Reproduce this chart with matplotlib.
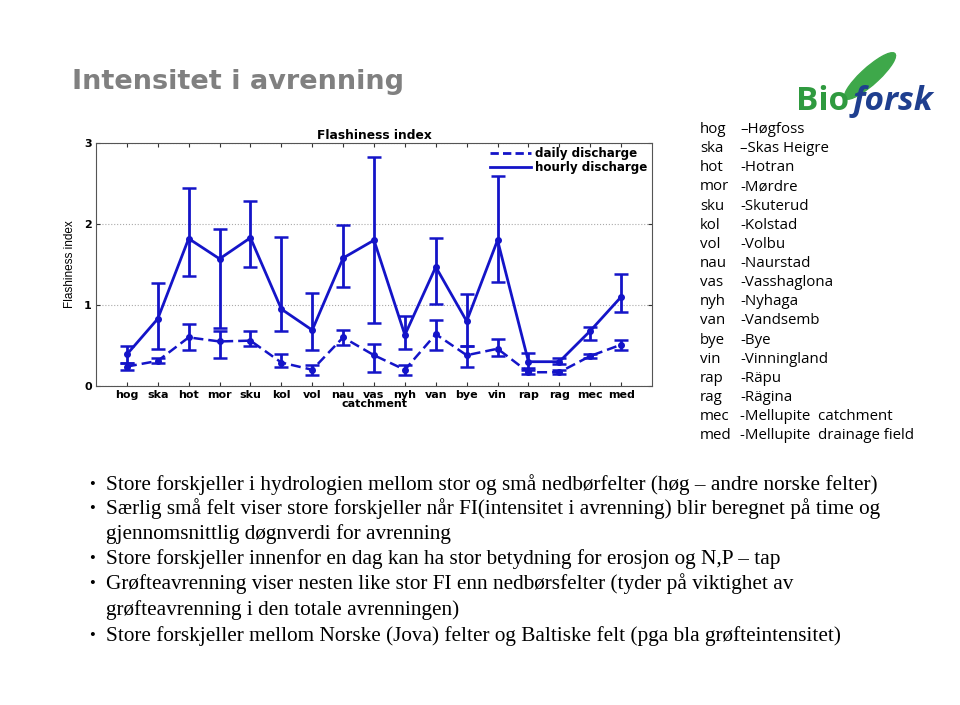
import matplotlib
matplotlib.use("Agg")
import matplotlib.pyplot as plt
import numpy as np
from matplotlib.patches import Ellipse
from matplotlib.lines import Line2D

# ---------------- data ----------------
catchments = ["hog", "ska", "hot", "mor", "sku", "kol", "vol", "nau", "vas",
              "nyh", "van", "bye", "vin", "rap", "rag", "mec", "med"]
hourly = [0.39, 0.83, 1.82, 1.57, 1.83, 0.95, 0.69, 1.58, 1.80,
          0.63, 1.47, 0.80, 1.80, 0.30, 0.30, 0.68, 1.10]
hourly_lo = [0.29, 0.46, 1.36, 0.71, 1.47, 0.68, 0.44, 1.22, 0.78,
             0.46, 1.01, 0.49, 1.28, 0.20, 0.27, 0.57, 0.91]
hourly_hi = [0.49, 1.27, 2.44, 1.94, 2.29, 1.84, 1.15, 1.99, 2.83,
             0.87, 1.83, 1.14, 2.59, 0.41, 0.35, 0.73, 1.38]
daily = [0.24, 0.31, 0.60, 0.55, 0.56, 0.29, 0.20, 0.60, 0.38,
         0.20, 0.64, 0.38, 0.46, 0.17, 0.17, 0.37, 0.51]
daily_lo = [0.20, 0.28, 0.44, 0.35, 0.49, 0.24, 0.14, 0.51, 0.17,
            0.14, 0.44, 0.24, 0.37, 0.15, 0.15, 0.35, 0.45]
daily_hi = [0.29, 0.35, 0.76, 0.68, 0.68, 0.39, 0.26, 0.69, 0.52,
            0.26, 0.81, 0.49, 0.58, 0.22, 0.20, 0.39, 0.57]
yticks = [0, 1, 2, 3]

abbrevs = ["hog", "ska", "hot", "mor", "sku", "kol", "vol", "nau", "vas",
           "nyh", "van", "bye", "vin", "rap", "rag", "mec", "med"]
names = ["\u2013Høgfoss", "\u2013Skas Heigre", "-Hotran", "-Mørdre", "-Skuterud",
         "-Kolstad", "-Volbu", "-Naurstad", "-Vasshaglona", "-Nyhaga",
         "-Vandsemb", "-Bye", "-Vinningland", "-Räpu", "-Rägina",
         "-Mellupite  catchment", "-Mellupite  drainage field"]

bullets = [
    ("Store forskjeller i hydrologien mellom stor og små nedbørfelter (høg \u2013 andre norske felter)", True),
    ("Særlig små felt viser store forskjeller når FI(intensitet i avrenning) blir beregnet på time og", True),
    ("gjennomsnittlig døgnverdi for avrenning", False),
    ("Store forskjeller innenfor en dag kan ha stor betydning for erosjon og N,P \u2013 tap", True),
    ("Grøfteavrenning viser nesten like stor FI enn nedbørsfelter (tyder på viktighet av", True),
    ("grøfteavrenning i den totale avrenningen)", False),
    ("Store forskjeller mellom Norske (Jova) felter og Baltiske felt (pga bla grøfteintensitet)", True),
]

# ---------------- figure ----------------
W, H = 960, 705
fig = plt.figure(figsize=(W / 100, H / 100), dpi=100)
fig.patch.set_facecolor("white")

def fx(px):
    return px / W

def fy(py):
    return 1 - py / H

blue = "#1414c8"
tickfont = {"family": "DejaVu Sans", "weight": "bold", "size": 8}

ax = fig.add_axes([fx(96), fy(386), fx(652) - fx(96), fy(143) - fy(386)])
x = np.arange(1, len(catchments) + 1)

h = np.array(hourly)
d = np.array(daily)
ax.errorbar(x, h, yerr=[h - np.array(hourly_lo), np.array(hourly_hi) - h],
            color=blue, lw=2.0, elinewidth=2.0, capsize=5, capthick=1.8,
            marker="o", ms=4, ls="-", label="hourly discharge", zorder=3)
ax.errorbar(x, d, yerr=[d - np.array(daily_lo), np.array(daily_hi) - d],
            color=blue, lw=1.8, elinewidth=2.0, capsize=5, capthick=1.8,
            marker="o", ms=4, ls=(0, (4, 2)), label="daily discharge", zorder=3)

ax.set_xlim(0, len(catchments) + 1)
ax.set_ylim(0, 3)
ax.set_xticks(x)
ax.set_xticklabels(catchments)
ax.set_yticks(yticks)
ax.set_yticklabels([str(v) for v in yticks])
ax.tick_params(direction="in", top=True, right=True, length=3, width=0.8,
               colors="#333333", labelcolor="black", pad=3)
for lab in ax.get_xticklabels() + ax.get_yticklabels():
    lab.set_fontfamily(tickfont["family"])
    lab.set_fontweight(tickfont["weight"])
    lab.set_fontsize(tickfont["size"])
for s in ax.spines.values():
    s.set_color("#555555")
    s.set_linewidth(0.8)
ax.grid(axis="y", ls=":", color="#aaaaaa", lw=0.8)
ax.set_title("Flashiness index", fontsize=8.8, fontweight="bold",
             fontfamily="DejaVu Sans", pad=3)
ax.set_xlabel("catchment", fontsize=8, fontweight="bold",
              fontfamily="DejaVu Sans", labelpad=-1)
ax.set_ylabel("Flashiness index", fontsize=8.5, fontfamily="Liberation Sans",
              labelpad=6)

handles = [Line2D([0], [0], color=blue, lw=2, ls=(0, (3, 1.5))),
           Line2D([0], [0], color=blue, lw=2, ls="-")]
leg = ax.legend(handles, ["daily discharge", "hourly discharge"], loc="upper right",
                bbox_to_anchor=(1.0, 1.0), frameon=False,
                prop={"family": "DejaVu Sans", "weight": "bold", "size": 8.6},
                handlelength=3.4, handletextpad=0.4, borderaxespad=0.15,
                borderpad=0.2, labelspacing=0.05)
leg.set_zorder(5)

# ---------------- slide title ----------------
fig.text(fx(72), fy(82), "Intensitet i avrenning", fontsize=19.5, fontweight="bold",
         color="#808080", fontfamily="DejaVu Sans", va="center", ha="left")

# ---------------- logo ----------------
leaf = Ellipse((fx(870), fy(76)), fx(20), fy(0) - fy(58), angle=-38,
               transform=fig.transFigure, color="#3ea84a", zorder=1)
fig.patches.append(leaf)
fig.text(fx(796), fy(102), "Bio", fontsize=24, fontweight="bold", color="#2f9a3f",
         fontfamily="Open Sans", va="center", ha="left")
fig.text(fx(853), fy(102), "forsk", fontsize=24, fontweight="bold", color="#1f3f8f",
         fontfamily="Open Sans", va="center", ha="left", style="italic")

# ---------------- abbreviation list ----------------
y0, dy = 129.5, 19.15
for i, (a, n) in enumerate(zip(abbrevs, names)):
    yy = y0 + i * dy
    fig.text(fx(700), fy(yy), a, fontsize=10.8, fontfamily="Open Sans",
             va="center", ha="left", color="black")
    fig.text(fx(740), fy(yy), n, fontsize=10.8, fontfamily="Open Sans",
             va="center", ha="left", color="black")

# ---------------- bullets ----------------
by = [485, 509, 534, 559, 584, 610, 636]
for (txt, has_bullet), yy in zip(bullets, by):
    if has_bullet:
        fig.text(fx(89), fy(yy), "\u2022", fontsize=12, fontfamily="Liberation Serif",
                 va="center", ha="left")
    fig.text(fx(106), fy(yy), txt, fontsize=15.3, fontfamily="Liberation Serif",
             va="center", ha="left")

fig.savefig("out.png", dpi=100, facecolor="white")
